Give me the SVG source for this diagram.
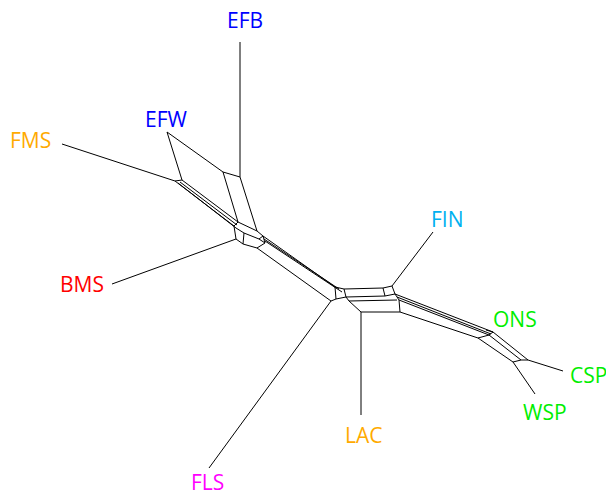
<svg xmlns="http://www.w3.org/2000/svg" width="606" height="496" viewBox="0 0 606 496">
<style>
  .e { fill: none; stroke: #000; stroke-width: 1; stroke-linejoin: round; }
  .t { font-family: "Open Sans", "Liberation Sans", sans-serif; font-size: 21px; }
  .blue { fill: #0000ff; }
  .orange { fill: #ffaa00; }
  .red { fill: #ff0000; }
  .cyan { fill: #00b0f0; }
  .green { fill: #00ee00; }
  .mag { fill: #ff00ff; }
</style>
<rect width="606" height="496" fill="#fff"/>
<g id="connectors" class="e">
  <!-- upper left: EFB / EFW / FMS -->
  <path d="M240,42 V177"/>
  <path d="M223,172 L167,132 L182,180"/>
  <path d="M223,172 L240,177"/>
  <path d="M62,144 L175,181 L182,180"/>
  <path d="M223,172 L238,222"/>
  <path d="M240,177 L257,231"/>
  <!-- bundle FMS junction to left cluster -->
  <path d="M182,180 L238,222"/>
  <path d="M180,182 L237,225"/>
  <path d="M178,183 L236,228"/>
  <path d="M175,181 L234,226"/>
  <!-- left cluster -->
  <path d="M238,222 L257,231 L263,236 L265,243 L257,248 L243,244 L236,239 L234,226 Z"/>
  <path d="M236,228 L244,233 L259,239 L265,243"/>
  <path d="M244,233 L243,244"/>
  <path d="M259,239 L263,236"/>
  <!-- BMS -->
  <path d="M112,284 L236,239"/>
  <!-- long bundle left cluster to central cluster -->
  <path d="M263,236 L335,287"/>
  <path d="M264,239 L339,289"/>
  <path d="M265,241 L342,292"/>
  <path d="M257,248 L331,301"/>
  <!-- central cluster -->
  <path d="M335,287 L344,289 L346,297 L336,299 Z"/>
  <path d="M331,301 L336,299"/>
  <path d="M344,289 L383,288"/>
  <path d="M346,297 L385,296"/>
  <path d="M346,297 L349,301 L397,300"/>
  <path d="M349,301 L361,312 L400,312 L399,300"/>
  <path d="M383,288 L392,286 L395,294 L385,296 Z"/>
  <path d="M395,294 L397,297 L399,300"/>
  <!-- FIN -->
  <path d="M392,286 L433,232"/>
  <!-- FLS -->
  <path d="M209,468 L331,301"/>
  <!-- LAC -->
  <path d="M361,312 V415"/>
  <!-- right bundle to ONS cluster -->
  <path d="M395,294 L493,332"/>
  <path d="M397,297 L491,334"/>
  <path d="M399,300 L489,335"/>
  <path d="M400,312 L478,338"/>
  <path d="M486,330 L493,332 L489,335 L478,338"/>
  <path d="M493,332 L528,360"/>
  <path d="M489,335 L521,360"/>
  <path d="M478,338 L513,362 L521,360 L528,360"/>
  <!-- CSP / WSP -->
  <path d="M528,360 L563,371"/>
  <path d="M513,362 L535,394"/>
</g>
<g id="EFB"><text class="t blue" x="227" y="28">EFB</text></g>
<g id="EFW"><text class="t blue" x="145" y="127">EFW</text></g>
<g id="FMS"><text class="t orange" x="10" y="148">FMS</text></g>
<g id="BMS"><text class="t red" x="60" y="292">BMS</text></g>
<g id="FIN"><text class="t cyan" x="431" y="227">FIN</text></g>
<g id="ONS"><text class="t green" x="493" y="327">ONS</text></g>
<g id="CSP"><text class="t green" x="570" y="383">CSP</text></g>
<g id="WSP"><text class="t green" x="523" y="420">WSP</text></g>
<g id="LAC"><text class="t orange" x="345" y="443">LAC</text></g>
<g id="FLS"><text class="t mag" x="191" y="490">FLS</text></g>
</svg>
